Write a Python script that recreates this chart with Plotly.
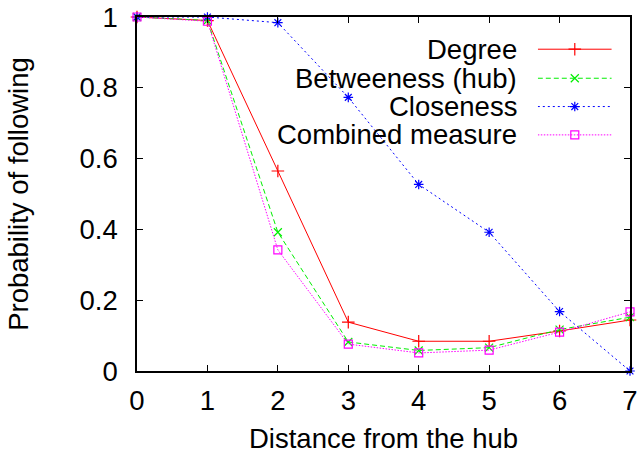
import plotly.graph_objects as go

distance = [0, 1, 2, 3, 4, 5, 6, 7]
degree = [1.0, 0.99, 0.565, 0.138, 0.084, 0.084, 0.113, 0.144]
betweeness = [1.0, 0.99, 0.392, 0.082, 0.058, 0.066, 0.117, 0.152]
closeness = [1.0, 1.0, 0.984, 0.773, 0.527, 0.392, 0.168, 0.0]
combined = [1.0, 0.988, 0.342, 0.076, 0.051, 0.059, 0.110, 0.167]

names = ["Degree", "Betweeness (hub)", "Closeness", "Combined measure"]
series = [degree, betweeness, closeness, combined]
colors = ["#ff0000", "#00ee00", "#0000ff", "#ff00ff"]
dashes = ["solid", "5px,3px", "2px,3px", "1.5px,1.5px"]
symbols = ["cross-thin-open", "x-thin-open", "asterisk-open", "square-open"]
sizes = [9, 8, 8, 8]

FONT = "Liberation Sans"
FS = 27.5

fig = go.Figure()
for name, ys, c, d, s, sz in zip(names, series, colors, dashes, symbols, sizes):
    fig.add_trace(go.Scatter(
        x=distance, y=ys, mode="lines+markers", name=name,
        line=dict(color=c, width=1, dash=d),
        marker=dict(symbol=s, size=sz, color=c, line=dict(color=c, width=1.2)),
        showlegend=False, cliponaxis=False,
    ))

# custom gnuplot-style legend (text left of sample)
legend_rows = [0.909, 0.827, 0.747, 0.667]  # paper y of rows
for i, (name, c, d, s, sz) in enumerate(zip(names, colors, dashes, symbols, sizes)):
    yrow = legend_rows[i]
    fig.add_trace(go.Scatter(
        x=[0, 0.5, 1], y=[yrow, yrow, yrow], mode="lines",
        line=dict(color=c, width=1, dash=d), xaxis="x2", yaxis="y2",
        showlegend=False, hoverinfo="skip",
    ))
    fig.add_trace(go.Scatter(
        x=[0.5], y=[yrow], mode="markers",
        marker=dict(symbol=s, size=sz, color=c, line=dict(color=c, width=1.2)),
        xaxis="x2", yaxis="y2", showlegend=False, hoverinfo="skip",
    ))
    fig.add_annotation(
        text=name, xref="paper", yref="paper", x=0.775, y=yrow,
        xanchor="right", yanchor="middle", showarrow=False,
        font=dict(family=FONT, size=FS, color="black"),
    )

fig.update_layout(
    width=640, height=454,
    margin=dict(l=137, r=10, t=17, b=83, autoexpand=False),
    paper_bgcolor="white", plot_bgcolor="rgba(0,0,0,0)",
    font=dict(family=FONT, size=FS, color="black"),
    xaxis=dict(
        range=[0, 7], tickvals=distance, ticks="inside", ticklen=6,
        tickcolor="black", showline=True, linecolor="black", linewidth=1.5,
        mirror="ticks", showgrid=False, zeroline=False, automargin=False,
        ticklabelstandoff=4, ticklabeloverflow="allow",
        title=dict(text="Distance from the hub", standoff=20,
                   font=dict(family=FONT, size=FS)),
        tickfont=dict(family=FONT, size=FS),
    ),
    yaxis=dict(
        range=[0, 1], tickvals=[0, 0.2, 0.4, 0.6, 0.8, 1],
        ticktext=["0", "0.2", "0.4", "0.6", "0.8", "1"],
        ticks="inside", ticklen=6, tickcolor="black",
        showline=True, linecolor="black", linewidth=1.5, mirror="ticks",
        showgrid=False, zeroline=False, automargin=False,
        ticklabelstandoff=12, ticklabeloverflow="allow",
        title=dict(text="Probability of following", standoff=43,
                   font=dict(family=FONT, size=FS)),
        tickfont=dict(family=FONT, size=FS),
    ),
    xaxis2=dict(domain=[0.813, 0.963], range=[0, 1], visible=False,
                anchor="y2"),
    yaxis2=dict(domain=[0, 1], range=[0, 1], visible=False,
                anchor="x2"),
)

fig.write_html(
    "out.html",
    config={"displayModeBar": False},
    post_script="document.body.style.margin='0';document.body.style.overflow='hidden';",
)
